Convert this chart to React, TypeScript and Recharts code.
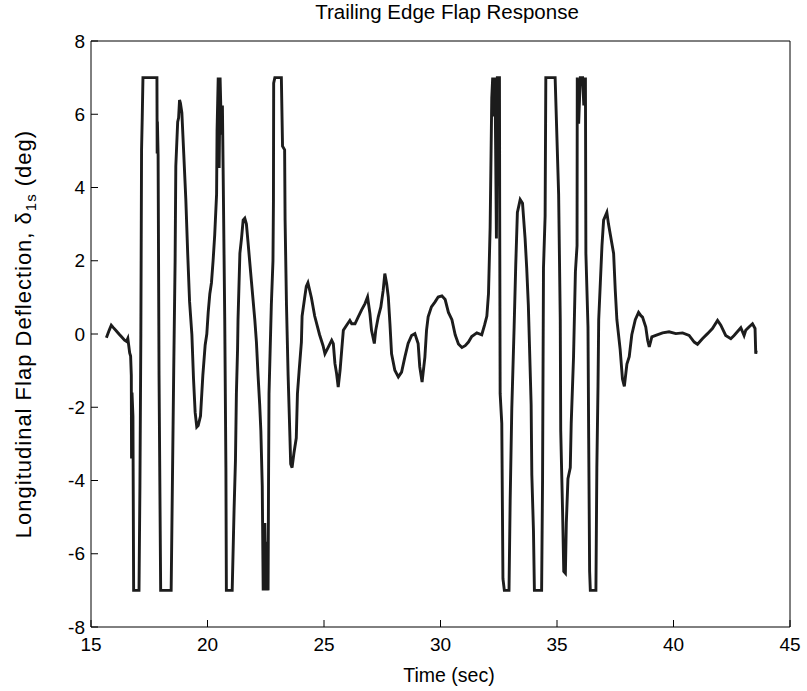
import React from "react";
import { LineChart, Line, XAxis, YAxis, Label } from "recharts";

const time: number[] = [
  15.66, 15.78, 15.87, 15.95, 16.08, 16.2, 16.3, 16.44, 16.52, 16.58, 16.66, 16.7, 16.73, 16.74, 16.76, 16.8, 16.83,
  17.06, 17.1, 17.14, 17.17, 17.2, 17.23, 17.83, 17.84, 17.85, 17.88, 17.92, 17.99, 18.44, 18.47, 18.55, 18.61, 18.64,
  18.72, 18.76, 18.8, 18.84, 18.9, 18.98, 19.07, 19.15, 19.23, 19.33, 19.4, 19.47, 19.54, 19.6, 19.7, 19.8, 19.9,
  19.97, 20.03, 20.1, 20.17, 20.24, 20.31, 20.39, 20.41, 20.46, 20.5, 20.54, 20.6, 20.64, 20.67, 20.74, 20.79, 20.81,
  21.06, 21.14, 21.2, 21.24, 21.29, 21.31, 21.39, 21.46, 21.53, 21.6, 21.67, 21.74, 21.89, 22.03, 22.1, 22.17, 22.24,
  22.29, 22.35, 22.39, 22.46, 22.5, 22.55, 22.6, 22.62, 22.64, 22.74, 22.81, 22.83, 22.84, 22.89, 23.17, 23.22, 23.31,
  23.33, 23.39, 23.46, 23.53, 23.57, 23.63, 23.71, 23.81, 23.86, 23.93, 24.03, 24.06, 24.17, 24.24, 24.31, 24.46,
  24.6, 24.81, 24.96, 25.04, 25.19, 25.33, 25.4, 25.47, 25.54, 25.61, 25.69, 25.76, 25.83, 25.97, 26.11, 26.19, 26.33,
  26.47, 26.61, 26.76, 26.87, 26.97, 27.04, 27.16, 27.22, 27.33, 27.44, 27.54, 27.61, 27.69, 27.76, 27.83, 27.9, 28.04,
  28.19, 28.33, 28.47, 28.61, 28.76, 28.9, 29.04, 29.11, 29.21, 29.33, 29.4, 29.47, 29.61, 29.76, 29.9, 30.06, 30.2,
  30.34, 30.49, 30.63, 30.77, 30.92, 31.06, 31.2, 31.34, 31.56, 31.77, 31.89, 31.99, 32.06, 32.13, 32.17, 32.2, 32.24,
  32.3, 32.34, 32.4, 32.44, 32.53, 32.54, 32.56, 32.63, 32.68, 32.74, 32.94, 32.99, 33.06, 33.16, 33.23, 33.3, 33.42,
  33.52, 33.63, 33.7, 33.77, 33.89, 33.92, 33.99, 34.03, 34.34, 34.38, 34.42, 34.49, 34.52, 34.92, 35.07, 35.14, 35.16,
  35.24, 35.29, 35.36, 35.4, 35.47, 35.57, 35.61, 35.71, 35.79, 35.86, 35.87, 35.93, 36.0, 36.1, 36.15, 36.22, 36.24,
  36.33, 36.36, 36.4, 36.43, 36.67, 36.71, 36.76, 36.79, 36.86, 36.93, 37.0, 37.1, 37.14, 37.21, 37.29, 37.43, 37.5,
  37.57, 37.71, 37.81, 37.89, 38.0, 38.1, 38.21, 38.36, 38.5, 38.6, 38.67, 38.81, 38.89, 38.96, 39.07, 39.24, 39.53,
  39.81, 40.1, 40.39, 40.67, 40.89, 41.03, 41.24, 41.46, 41.67, 41.89, 42.03, 42.24, 42.46, 42.6, 42.74, 42.89, 43.03,
  43.1, 43.24, 43.39, 43.5, 43.53, 43.55,
];

const deflection: number[] = [
  -0.1, 0.1, 0.24, 0.18, 0.09, 0.0, -0.07, -0.17, -0.2, -0.12, -0.52, -0.6, -1.13, -3.4, -1.6, -2.24, -7.0,
  -7.0, -4.15, 0.0, 5.03, 5.94, 7.0, 7.0, 4.93, 5.8, 4.9, -1.13, -7.0, -7.0, -5.37, -1.0, 2.0, 4.58,
  5.79, 5.9, 6.39, 6.3, 6.04, 4.93, 3.67, 2.2, 0.89, -0.02, -1.23, -2.14, -2.54, -2.5, -2.24, -1.13, -0.3,
  0.0, 0.59, 1.1, 1.4, 2.0, 2.71, 3.82, 5.54, 7.0, 4.53, 7.0, 5.44, 6.24, 4.53, 0.39, -3.65, -7.0,
  -7.0, -4.81, -3.45, -1.63, -0.42, 0.39, 2.2, 2.61, 3.11, 3.16, 3.0, 2.5, 1.4, 0.39, -0.22, -1.13, -1.93,
  -2.64, -4.15, -7.0, -5.16, -7.0, -5.67, -7.0, -4.0, -1.63, 0.8, 2.0, 3.62, 6.85, 7.0, 7.0, 5.13, 5.03,
  3.11, 0.79, -1.13, -2.64, -3.55, -3.65, -3.25, -2.84, -1.63, -1.03, -0.22, 0.49, 0.99, 1.3, 1.4, 0.99,
  0.49, -0.02, -0.32, -0.54, -0.35, -0.17, -0.26, -0.81, -1.08, -1.45, -0.99, -0.44, 0.1, 0.24, 0.37, 0.28, 0.28,
  0.47, 0.65, 0.83, 1.01, 0.56, 0.1, -0.26, 0.1, 0.47, 0.74, 1.19, 1.65, 1.37, 1.01, 0.28, -0.54, -0.99,
  -1.17, -1.04, -0.63, -0.26, -0.04, 0.01, -0.26, -0.9, -1.31, -0.63, 0.1, 0.47, 0.74, 0.87, 1.01, 1.04, 0.94,
  0.59, 0.39, -0.02, -0.27, -0.37, -0.32, -0.22, -0.07, 0.03, -0.02, 0.24, 0.49, 1.1, 2.91, 4.93, 6.44, 7.0,
  5.94, 7.0, 2.61, 7.0, 7.0, 3.42, -1.63, -2.44, -6.68, -7.0, -7.0, -4.56, -2.03, 0.19, 1.9, 3.32, 3.67,
  3.57, 2.61, 1.8, 0.79, -1.93, -3.85, -5.37, -7.0, -7.0, -4.0, 1.8, 3.22, 7.0, 7.0, 3.82, 0.39, -2.64,
  -4.86, -6.48, -6.53, -5.16, -3.95, -3.65, -2.44, -0.62, 1.7, 2.41, 7.0, 5.74, 7.0, 7.0, 6.24, 7.0, 2.2,
  0.19, -2.84, -6.48, -7.0, -7.0, -3.65, -1.43, 0.39, 1.4, 2.41, 3.11, 3.26, 3.32, 3.0, 2.71, 2.2, 1.2,
  0.39, -0.42, -1.23, -1.43, -0.82, -0.62, -0.02, 0.39, 0.59, 0.5, 0.46, 0.19, -0.17, -0.35, -0.08, -0.04, 0.03,
  0.06, 0.01, 0.03, -0.04, -0.22, -0.28, -0.13, 0.01, 0.15, 0.37, 0.24, -0.04, -0.13, -0.04, 0.06, 0.17, -0.04,
  0.1, 0.19, 0.28, 0.15, -0.54, -0.45,
];

const xTicks: number[] = [15, 20, 25, 30, 35, 40, 45];
const yTicks: number[] = [-8, -6, -4, -2, 0, 2, 4, 6, 8];

const data = time.map((t, i) => ({ t, d: deflection[i] }));

const FONT = '"Liberation Sans", Arial, Helvetica, sans-serif';
const FS = 19;

const YLabelContent = () => (
  <text
    transform="translate(31,334) rotate(-90)"
    textAnchor="middle"
    fontSize={22}
    letterSpacing={1}
    fontFamily={FONT}
    fill="#000"
  >
    Longitudinal Flap Deflection, δ
    <tspan fontSize={15} dy={5}>1s</tspan>
    <tspan dy={-5}>{"  (deg)"}</tspan>
  </text>
);

const XLabelContent = () => (
  <text x={449} y={682} textAnchor="middle" fontSize={19.5} fontFamily={FONT} fill="#000">
    Time (sec)
  </text>
);

export default function App() {
  return (
    <div style={{ position: "absolute", left: 0, top: 0, width: 807, height: 691, background: "#fff" }}>
      <div
        style={{
          position: "absolute",
          left: 0,
          top: 0,
          width: 894,
          textAlign: "center",
          fontFamily: FONT,
          fontSize: 20.5,
          color: "#000",
          lineHeight: "24px",
        }}
      >
        Trailing Edge Flap Response
      </div>
      <LineChart
        width={807}
        height={691}
        data={data}
        margin={{ top: 40, right: 16, bottom: 24, left: 31 }}
      >
        <XAxis
          xAxisId="main"
          dataKey="t"
          type="number"
          domain={[15, 45]}
          ticks={xTicks}
          allowDataOverflow
          height={40}
          tickSize={-7}
          tickMargin={18}
          stroke="#000"
          tick={{ fill: "#000", fontSize: FS, fontFamily: FONT }}
          interval={0}
        >
          <Label content={<XLabelContent />} />
        </XAxis>
        <XAxis
          xAxisId="top"
          orientation="top"
          dataKey="t"
          type="number"
          domain={[15, 45]}
          ticks={xTicks}
          allowDataOverflow
          height={1}
          tickSize={-7}
          tick={false}
          stroke="#000"
          interval={0}
        />
        <YAxis
          yAxisId="main"
          type="number"
          domain={[-8, 8]}
          ticks={yTicks}
          allowDataOverflow
          width={60}
          tickSize={-7}
          tickMargin={13}
          stroke="#000"
          tick={{ fill: "#000", fontSize: FS, fontFamily: FONT }}
          interval={0}
        >
          <Label content={<YLabelContent />} />
        </YAxis>
        <YAxis
          yAxisId="right"
          orientation="right"
          type="number"
          domain={[-8, 8]}
          ticks={yTicks}
          allowDataOverflow
          width={1}
          tickSize={-7}
          tick={false}
          stroke="#000"
          interval={0}
        />
        <Line
          xAxisId="main"
          yAxisId="main"
          type="linear"
          dataKey="d"
          stroke="#1c1c1c"
          strokeWidth={2.9}
          dot={false}
          isAnimationActive={false}
          strokeLinejoin="miter"
        />
      </LineChart>
    </div>
  );
}
